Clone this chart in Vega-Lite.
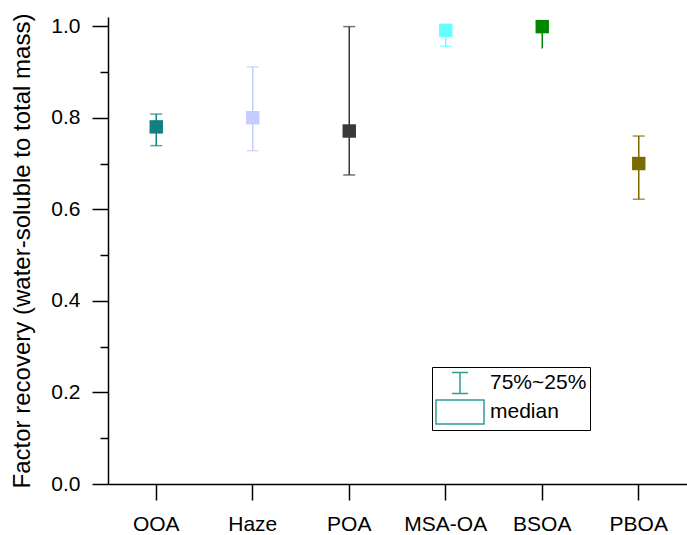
{
  "$schema": "https://vega.github.io/schema/vega-lite/v6.json",
  "width": 579,
  "height": 467,
  "autosize": {"type": "none"},
  "padding": {"left": 108, "top": 17, "right": 0, "bottom": 51},
  "background": "white",
  "config": {
    "font": "Liberation Sans",
    "view": {"stroke": null},
    "axis": {
      "domainColor": "black", "tickColor": "black", "labelColor": "black", "titleColor": "black",
      "domainWidth": 1.5, "tickWidth": 1.5, "grid": false,
      "labelFontSize": 21, "titleFontSize": 24, "titleFontWeight": "normal",
      "labelFont": "Liberation Sans", "titleFont": "Liberation Sans"
    }
  },
  "datasets": {
    "main": [
      {"cat": "OOA", "median": 0.78, "lo": 0.739, "hi": 0.808},
      {"cat": "Haze", "median": 0.80, "lo": 0.728, "hi": 0.911},
      {"cat": "POA", "median": 0.771, "lo": 0.675, "hi": 0.999},
      {"cat": "MSA-OA", "median": 0.991, "lo": 0.956, "hi": 0.995},
      {"cat": "BSOA", "median": 0.999, "lo": 0.951, "hi": 1.0},
      {"cat": "PBOA", "median": 0.70, "lo": 0.622, "hi": 0.760}
    ],
    "leg": [{"key": "75%~25%"}, {"key": "median"}]
  },
  "layer": [
    {
      "data": {"name": "main"},
      "mark": {"type": "rule", "strokeWidth": 1.5},
      "encoding": {
        "x": {"field": "cat", "type": "nominal", "sort": null,
          "scale": {"type": "band", "paddingInner": 0, "paddingOuter": 0},
          "axis": {"title": null, "labelAngle": 0, "tickSize": 16, "labelPadding": 13}},
        "y": {"field": "lo", "type": "quantitative",
          "scale": {"domain": [0, 1.02], "nice": false, "zero": true},
          "axis": {"orient": "left", "values": [0, 0.2, 0.4, 0.6, 0.8, 1.0], "format": ".1f",
            "tickSize": 16, "labelPadding": 12, "titlePadding": 16,
            "title": "Factor recovery (water-soluble to total mass)"}},
        "y2": {"field": "hi"},
        "color": {"field": "cat", "type": "nominal", "legend": null,
          "scale": {"domain": ["OOA", "Haze", "POA", "MSA-OA", "BSOA", "PBOA"],
            "range": ["#118080", "#c5ccff", "#383838", "#66ffff", "#008800", "#7a6a00"]}}
      }
    },
    {
      "data": {"name": "main"},
      "transform": [{"filter": "datum.cat != 'BSOA'"}],
      "mark": {"type": "tick", "size": 12, "thickness": 1.5, "orient": "horizontal"},
      "encoding": {
        "x": {"field": "cat", "type": "nominal", "sort": null},
        "y": {"field": "lo", "type": "quantitative", "axis": null},
        "color": {"field": "cat", "type": "nominal", "legend": null}
      }
    },
    {
      "data": {"name": "main"},
      "mark": {"type": "tick", "size": 12, "thickness": 1.5, "orient": "horizontal"},
      "encoding": {
        "x": {"field": "cat", "type": "nominal", "sort": null},
        "y": {"field": "hi", "type": "quantitative", "axis": null},
        "color": {"field": "cat", "type": "nominal", "legend": null}
      }
    },
    {
      "data": {"name": "main"},
      "mark": {"type": "point", "shape": "square", "filled": true, "size": 180, "opacity": 1},
      "encoding": {
        "x": {"field": "cat", "type": "nominal", "sort": null},
        "y": {"field": "median", "type": "quantitative", "axis": null},
        "color": {"field": "cat", "type": "nominal", "legend": null}
      }
    },
    {
      "data": {"name": "main"},
      "mark": {"type": "point", "opacity": 0},
      "encoding": {
        "x": {"field": "cat", "type": "nominal", "sort": null},
        "y": {"field": "median", "type": "quantitative",
          "axis": {"orient": "left", "values": [0.1, 0.3, 0.5, 0.7, 0.9], "labels": false,
            "domain": false, "tickSize": 8, "title": null}}
      }
    },
    {
      "data": {"name": "leg"},
      "mark": {"type": "point", "opacity": 0, "filled": false, "size": 576},
      "encoding": {
        "shape": {"field": "key", "type": "nominal",
          "scale": {"domain": ["75%~25%", "median"],
            "range": ["M-0.67,-0.875H0.67M0,-0.875V0.875M-0.67,0.875H0.67", "M-2,-1H2V1H-2Z"]},
          "legend": {"title": null, "orient": "none", "legendX": 324, "legendY": 350,
            "strokeColor": "black", "padding": 3, "cornerRadius": 0,
            "symbolOpacity": 1, "symbolStrokeColor": "#2e9c97", "symbolFillColor": "transparent",
            "symbolStrokeWidth": 1.5, "symbolSize": 576, "symbolOffset": 12,
            "labelOffset": 17, "labelFontSize": 21, "labelColor": "black", "labelFont": "Liberation Sans",
            "rowPadding": 0}}
      }
    }
  ],
  "resolve": {"scale": {"y": "shared"}, "axis": {"y": "independent"}}
}
